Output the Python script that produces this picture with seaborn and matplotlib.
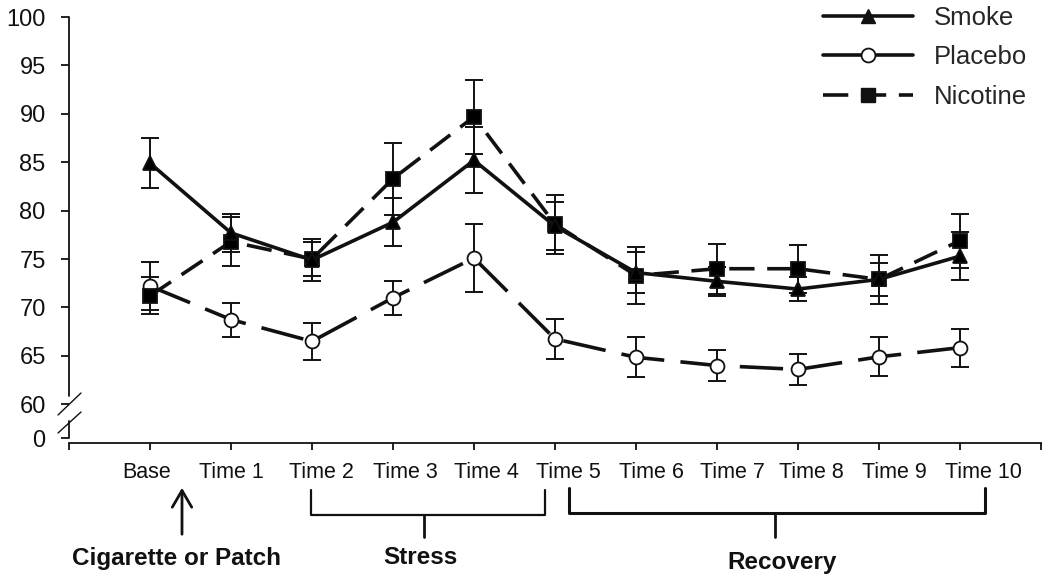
import numpy as np
import pandas as pd
import matplotlib
matplotlib.use("Agg")
import matplotlib.pyplot as plt
from matplotlib.lines import Line2D
import seaborn as sns

sns.set_theme(style="white")
plt.rcParams['font.family'] = ['Liberation Sans', 'DejaVu Sans']

# Data (means and error bar half-widths)
time_labels = ["Base", "Time 1", "Time 2", "Time 3", "Time 4", "Time 5",
               "Time 6", "Time 7", "Time 8", "Time 9", "Time 10"]
smoke = [84.9, 77.7, 74.9, 78.8, 85.2, 78.4, 73.6, 72.7, 71.9, 72.9, 75.3]
smoke_err = [2.6, 2.0, 2.2, 2.5, 3.4, 2.5, 2.1, 1.5, 1.2, 1.7, 2.5]
placebo = [72.2, 68.75, 66.5, 71.0, 75.1, 66.75, 64.85, 64.0, 63.6, 64.9, 65.85]
placebo_err = [2.5, 1.75, 1.9, 1.75, 3.5, 2.1, 2.05, 1.6, 1.6, 2.0, 1.95]
nicotine = [71.2, 76.8, 75.0, 83.3, 89.7, 78.6, 73.3, 74.0, 74.0, 72.9, 76.9]
nicotine_err = [1.9, 2.5, 1.8, 3.7, 3.8, 3.05, 2.9, 2.6, 2.5, 2.5, 2.8]

y_ticks = [60, 65, 70, 75, 80, 85, 90, 95, 100]

x = np.arange(len(time_labels))
df = pd.DataFrame({
    "time": np.tile(x, 3),
    "score": smoke + placebo + nicotine,
    "err": smoke_err + placebo_err + nicotine_err,
    "group": ["Smoke"] * len(x) + ["Placebo"] * len(x) + ["Nicotine"] * len(x),
})

W, H = 1050, 577
fig = plt.figure(figsize=(W / 100, H / 100), dpi=100)
ax = fig.add_axes([69 / W, 1 - 443 / H, 972 / W, 426 / H])


def fx(px):
    return px / W


def fy(py):
    return 1 - py / H


styles = {
    "Smoke": dict(marker="^", markersize=10.5, markerfacecolor="black",
                  linestyle="-"),
    "Placebo": dict(marker="o", markersize=10, markerfacecolor="white",
                    linestyle=(0, (12, 4.5))),
    "Nicotine": dict(marker="s", markersize=9.5, markerfacecolor="black",
                     linestyle=(0, (7, 3.5))),
}

for name in ["Placebo", "Nicotine", "Smoke"]:
    sub = df[df["group"] == name]
    ax.errorbar(sub["time"], sub["score"], yerr=sub["err"], fmt="none",
                ecolor="#111111", elinewidth=1.4, capsize=6.5, capthick=1.4,
                zorder=1.5)
    sns.lineplot(data=sub, x="time", y="score", ax=ax, color="#111111",
                 linewidth=2.6, markeredgecolor="#111111", markeredgewidth=1.3,
                 errorbar=None, legend=False, zorder=3, **styles[name])

ax.set_xlim(-1, 11)
ax.set_ylim(56, 100)
ax.set_xlabel("")
ax.set_ylabel("")

# y axis with broken scale
ax.set_yticks([56.5] + y_ticks)
ax.set_yticklabels(["0"] + [str(v) for v in y_ticks])
ax.tick_params(axis="y", direction="out", length=5.8, width=1.3, pad=11,
               labelsize=17, colors="#111111", left=True)

# x axis: tick marks between categories, labels placed underneath
ax.set_xticks(np.arange(-1, 12))
ax.set_xticklabels([])
label_x = [-0.04, 1.01, 2.12, 3.15, 4.15, 5.17, 6.19, 7.19, 8.17, 9.19, 10.29]
ax.set_xticks(label_x, minor=True)
ax.set_xticklabels(time_labels, minor=True)
ax.tick_params(axis="x", which="major", direction="out", length=5, width=1.3,
               colors="#111111", bottom=True)
ax.tick_params(axis="x", which="minor", length=0, pad=14, labelsize=15.5,
               labelcolor="#111111")

for side in ["top", "right", "left"]:
    ax.spines[side].set_visible(False)
ax.spines["bottom"].set_color("#111111")
ax.spines["bottom"].set_linewidth(1.3)

ytr = ax.get_yaxis_transform()
ax.plot([0, 0], [100, 60.9], transform=ytr, color="#111111", lw=1.3,
        clip_on=False)
ax.plot([0, 0], [58.3, 56.5], transform=ytr, color="#111111", lw=1.3,
        clip_on=False)
for y0, y1 in [(415, 393), (433, 412)]:
    fig.add_artist(Line2D([fx(58), fx(81)], [fy(y0), fy(y1)],
                          color="#111111", lw=1.0))

# legend
handles = [
    Line2D([], [], color="#111111", lw=2.6, marker="^", ms=10.5,
           mfc="#111111", mec="#111111"),
    Line2D([], [], color="#111111", lw=2.6, marker="o", ms=10,
           mfc="white", mec="#111111", mew=1.3),
    Line2D([], [], color="#111111", lw=2.6, marker="s", ms=9.5,
           mfc="#111111", mec="#111111", linestyle=(0, (7, 3.5))),
]
fig.legend(handles, ["Smoke", "Placebo", "Nicotine"], loc="upper left",
           bbox_to_anchor=(fx(823), fy(6)), frameon=False, fontsize=18.5,
           handlelength=3.5, handletextpad=0.8, labelspacing=0.6,
           borderpad=0, borderaxespad=0)

# phase annotations under the axis
ax.annotate("", xy=(fx(182), fy(485)), xytext=(fx(182), fy(537)),
            xycoords="figure fraction", textcoords="figure fraction",
            arrowprops=dict(arrowstyle="->,head_length=0.6,head_width=0.35",
                            lw=2, mutation_scale=20, color="#111111"))
fig.text(fx(177), fy(558), "Cigarette or Patch", ha="center", va="center",
         fontsize=17.5, fontweight="bold", color="#111111")

fig.add_artist(Line2D([fx(311), fx(311), fx(545), fx(545)],
                      [fy(490), fy(515), fy(515), fy(490)],
                      color="#111111", lw=1.6))
fig.add_artist(Line2D([fx(424), fx(424)], [fy(515), fy(537)],
                      color="#111111", lw=2))
fig.text(fx(420), fy(557), "Stress", ha="center", va="center",
         fontsize=17.5, fontweight="bold", color="#111111")

fig.add_artist(Line2D([fx(569), fx(569), fx(985), fx(985)],
                      [fy(488), fy(513), fy(513), fy(488)],
                      color="#111111", lw=2.2))
fig.add_artist(Line2D([fx(775), fx(775)], [fy(513), fy(537)],
                      color="#111111", lw=2))
fig.text(fx(782), fy(563), "Recovery", ha="center", va="center",
         fontsize=17.5, fontweight="bold", color="#111111")

fig.savefig("out.png", dpi=100)
